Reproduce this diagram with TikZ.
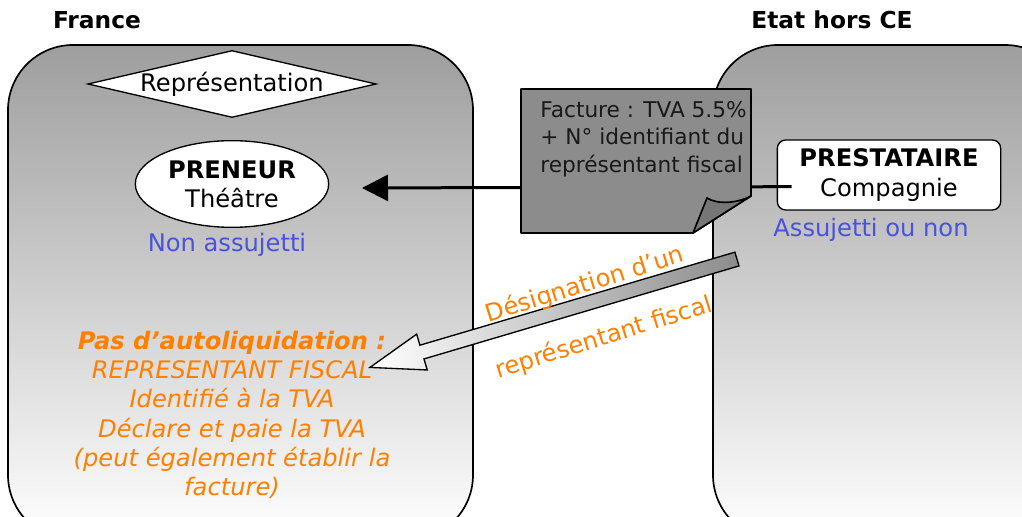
\documentclass[tikz,border=0pt]{standalone}
\usepackage{fontspec}
\setmainfont{DejaVu Sans}
\usetikzlibrary{positioning,shapes.geometric,shapes.arrows,arrows.meta}
\definecolor{zonetop}{RGB}{158,158,158}
\definecolor{notegray}{RGB}{140,140,140}
\definecolor{foldgray}{RGB}{118,118,118}
\definecolor{statblue}{RGB}{72,82,220}
\definecolor{fiscorange}{RGB}{255,128,0}
\begin{document}
\begin{tikzpicture}[x=0.6pt,y=-0.6pt,
  zone/.style={draw=black,line width=1pt,rounded corners=39pt,top color=zonetop,bottom color=white},
  title/.style={font=\fontsize{14}{17}\selectfont\bfseries},
  txt/.style={font=\fontsize{14.5}{17.5}\selectfont,align=center},
  flow/.style={line width=1.8pt,-{Triangle[length=15.6pt,width=15.6pt]}}]
\useasboundingbox (0,0) rectangle (1022,517);
\clip (0,0) rectangle (1022,517);
% Zones
\draw[zone] (8,45) rectangle (473,540); % france
\draw[zone] (713,45) rectangle (1070,540); % hors CE
\node[title] (france) at (97,20) {France};
\node[title] (horsce) at (832,20) {Etat hors CE};
% France
\node[txt,diamond,draw,fill=white,aspect=4.3,inner sep=0pt,line width=0.8pt] (repres) at (232,84) {Représentation};
\node[txt,ellipse,draw,fill=white,minimum width=116pt,minimum height=52pt,inner sep=0pt,line width=0.8pt] (preneur) at (232,184) {{\bfseries PRENEUR}\\Théâtre};
\node[txt,text=statblue] (nonass) at (227,245) {Non assujetti};
\node[txt,text=fiscorange,font=\fontsize{14.5}{17.6}\selectfont\itshape] (fiscal) at (232,415)
  {{\bfseries Pas d’autoliquidation :}\\REPRESENTANT FISCAL\\Identifié à la TVA\\Déclare et paie la TVA\\(peut également établir la\\facture)};
% Hors CE
\node[txt,draw,fill=white,rounded corners=5pt,minimum width=134pt,minimum height=42pt,line width=0.8pt] (prest) at (889,175) {{\bfseries PRESTATAIRE}\\Compagnie};
\node[txt,text=statblue] (assuj) at (871,230) {Assujetti ou non};
% Facture
\coordinate (fstart) at ([xshift=9pt,yshift=-7pt]prest.west);
\coordinate (fend) at (362,188);
\draw[flow] (fstart) -- (fend);
\filldraw[fill=notegray,line width=1pt,line join=round] (521,89) -- (751,89) -- (751,196) -- (693,233) -- (521,233) -- cycle;
\filldraw[fill=foldgray,line width=1pt,line join=round] (693,233) -- (707,198) .. controls (718,205) and (738,203) .. (751,196) -- cycle;
\node[anchor=north west,align=left,inner sep=0pt,text=black!90,font=\fontsize{13}{16.5}\selectfont] (facture) at (540,101)
  {Facture : TVA 5.5\%\\+ N° identifiant du\\représentant fiscal};
% Designation
\node[single arrow,draw,line width=0.8pt,left color=white,right color=notegray,rotate=196.45,anchor=tip,
  minimum height=229.6pt,minimum width=21.6pt,inner sep=3.9pt,single arrow head extend=6.9pt,
  single arrow tip angle=38] (desig) at (368,368) {};
\node[txt,text=fiscorange,rotate=17.2] (desig1) at (585,285) {Désignation d’un};
\node[txt,text=fiscorange,rotate=17.2] (desig2) at (604,338) {représentant fiscal};
\end{tikzpicture}
\end{document}
